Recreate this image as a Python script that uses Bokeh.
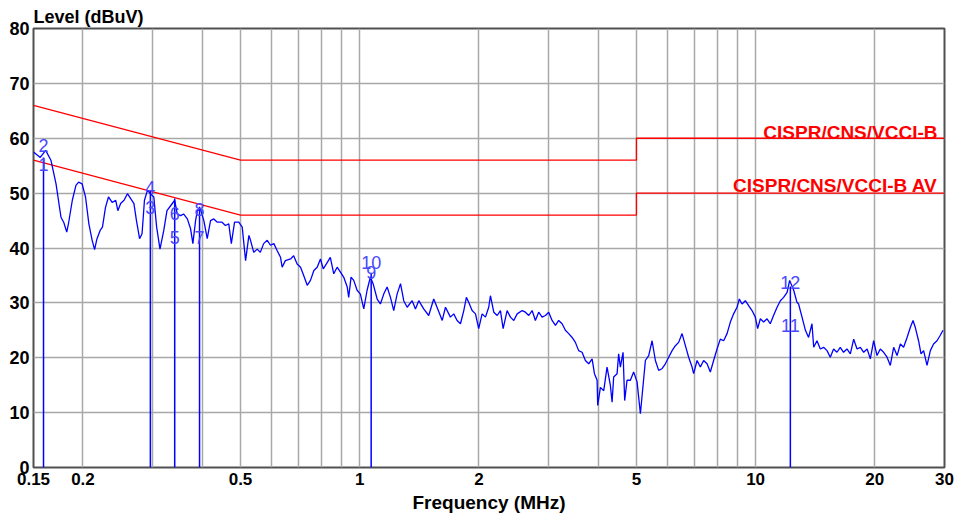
from bokeh.plotting import figure
from bokeh.models import FixedTicker, Label
from bokeh.core.properties import value
from bokeh.embed import file_html
from bokeh.resources import INLINE

# ---- measured trace (MHz, dBuV) ----
freq = [
    0.150, 0.156, 0.161, 0.166, 0.171, 0.176, 0.179, 0.182, 0.184, 0.188, 0.192, 0.195, 0.199,
    0.203, 0.207, 0.211, 0.214, 0.217, 0.221, 0.224, 0.228, 0.232, 0.237, 0.242, 0.245, 0.249,
    0.254, 0.259, 0.264, 0.269, 0.273, 0.278, 0.282, 0.286, 0.291, 0.296, 0.302, 0.307, 0.313,
    0.320, 0.326, 0.333, 0.341, 0.346, 0.353, 0.359, 0.367, 0.374, 0.379, 0.385, 0.389, 0.396,
    0.404, 0.412, 0.420, 0.428, 0.437, 0.449, 0.458, 0.467, 0.474, 0.483, 0.495, 0.505, 0.515,
    0.525, 0.530, 0.540, 0.551, 0.561, 0.572, 0.584, 0.595, 0.607, 0.619, 0.631, 0.637, 0.649,
    0.669, 0.681, 0.695, 0.709, 0.722, 0.737, 0.751, 0.766, 0.781, 0.796, 0.809, 0.824, 0.843,
    0.860, 0.877, 0.894, 0.911, 0.930, 0.938, 0.951, 0.966, 0.985, 1.004, 1.024, 1.044, 1.064,
    1.081, 1.107, 1.128, 1.150, 1.173, 1.196, 1.219, 1.243, 1.268, 1.292, 1.318, 1.357, 1.383,
    1.410, 1.451, 1.494, 1.538, 1.568, 1.616, 1.647, 1.679, 1.695, 1.728, 1.762, 1.797, 1.832,
    1.860, 1.885, 1.923, 1.961, 1.998, 2.038, 2.078, 2.118, 2.139, 2.181, 2.225, 2.267, 2.303,
    2.357, 2.403, 2.450, 2.499, 2.573, 2.622, 2.673, 2.726, 2.778, 2.832, 2.889, 2.945, 3.002,
    3.062, 3.122, 3.182, 3.245, 3.308, 3.372, 3.440, 3.506, 3.573, 3.645, 3.716, 3.788, 3.864,
    3.917, 3.978, 3.992, 4.055, 4.134, 4.215, 4.298, 4.340, 4.380, 4.468, 4.509, 4.554, 4.626,
    4.670, 4.734, 4.827, 4.920, 5.019, 5.117, 5.268, 5.370, 5.477, 5.583, 5.690, 5.803, 5.917,
    6.032, 6.153, 6.272, 6.392, 6.520, 6.647, 6.775, 6.910, 6.975, 7.114, 7.251, 7.392, 7.539,
    7.685, 7.834, 7.990, 8.145, 8.304, 8.470, 8.634, 8.800, 8.976, 9.097, 9.241, 9.421, 9.603,
    9.795, 9.985, 10.12, 10.28, 10.48, 10.69, 10.89, 11.10, 11.33, 11.55, 11.77, 12.01, 12.19,
    12.48, 12.72, 12.84, 13.10, 13.36, 13.61, 13.88, 14.02, 14.29, 14.57, 14.85, 15.15, 15.44,
    15.74, 16.05, 16.36, 16.68, 17.01, 17.35, 17.69, 18.04, 18.39, 18.75, 19.13, 19.49, 19.87,
    20.26, 20.65, 21.06, 21.48, 21.89, 22.32, 22.77, 23.21, 23.65, 24.13, 24.59, 24.98, 25.32,
    25.80, 26.17, 26.57, 27.10, 27.63, 28.15, 28.72, 29.28, 29.74,
]
level = [
    57.5, 56.5, 57.8, 56.0, 51.7, 45.6, 44.6, 42.9, 44.6, 48.7, 51.4, 52.0, 51.7,
    49.3, 44.4, 41.4, 39.7, 41.7, 43.2, 43.8, 47.4, 49.3, 48.3, 48.7, 46.8, 48.1,
    48.7, 49.9, 49.0, 48.1, 45.0, 41.7, 42.6, 48.7, 50.5, 49.9, 49.3, 43.8, 39.8,
    43.2, 46.8, 47.7, 48.7, 46.2, 45.9, 46.2, 45.3, 43.5, 40.8, 45.0, 46.8, 47.1,
    45.0, 41.7, 45.0, 45.3, 44.7, 44.7, 44.1, 44.4, 40.8, 44.7, 44.7, 43.8, 37.7,
    42.3, 41.4, 39.2, 39.8, 39.2, 40.8, 41.4, 40.5, 40.8, 39.5, 38.3, 36.5, 37.7,
    38.0, 38.6, 37.1, 36.5, 35.0, 33.2, 34.1, 35.9, 36.5, 38.0, 36.2, 37.1, 38.3,
    35.3, 36.5, 35.6, 34.7, 32.9, 31.0, 34.7, 34.1, 32.3, 31.6, 28.9, 32.3, 34.7,
    33.5, 30.7, 29.8, 31.6, 32.9, 31.0, 28.6, 31.6, 33.5, 30.4, 29.2, 30.4, 28.9,
    30.4, 28.9, 27.7, 30.7, 29.2, 26.8, 29.2, 28.0, 27.4, 28.0, 26.8, 26.2, 28.6,
    31.0, 30.1, 28.6, 28.0, 25.3, 28.0, 27.4, 29.2, 31.3, 28.3, 27.7, 28.6, 25.3,
    28.6, 27.4, 26.8, 28.0, 28.6, 28.3, 27.7, 28.6, 26.8, 28.3, 27.4, 27.7, 28.3,
    26.8, 25.9, 26.8, 26.2, 25.0, 24.4, 23.7, 22.8, 21.3, 21.0, 19.5, 18.9, 19.8,
    17.1, 15.9, 11.3, 14.6, 14.0, 18.3, 14.9, 11.9, 16.5, 17.1, 20.7, 18.3, 21.0,
    12.2, 15.9, 15.9, 17.4, 15.6, 9.8, 19.5, 20.4, 23.1, 19.5, 17.7, 18.0, 18.9,
    20.1, 21.3, 22.2, 22.8, 24.4, 22.2, 20.1, 18.3, 17.1, 19.5, 18.3, 19.5, 18.9,
    17.4, 19.5, 21.6, 23.4, 23.1, 24.4, 26.5, 28.0, 29.2, 30.7, 29.8, 30.4, 29.5,
    28.6, 27.4, 25.3, 27.1, 26.5, 27.1, 26.2, 27.7, 29.2, 30.4, 31.0, 31.9, 34.1,
    32.3, 30.1, 29.8, 27.4, 25.0, 23.7, 26.2, 21.9, 23.1, 21.6, 21.9, 21.3, 20.1,
    21.6, 21.0, 21.9, 21.0, 21.6, 20.7, 23.4, 21.6, 21.9, 21.0, 21.6, 19.8, 23.1,
    20.4, 21.6, 21.0, 20.1, 18.6, 21.9, 20.4, 22.5, 21.9, 23.7, 25.5, 26.8, 25.5,
    23.1, 20.7, 21.3, 18.6, 21.3, 22.5, 23.1, 24.1, 25.0,
]

# ---- limit lines ----
lim_freq = [0.15, 0.5, 5, 5, 30]
qp_limit = [66, 56, 56, 60, 60]
av_limit = [56, 46, 46, 50, 50]
qp_name = "CISPR/CNS/VCCI-B"
av_name = "CISPR/CNS/VCCI-B AV"

# ---- markers ----
mk_freq = [0.159, 0.296, 0.341, 0.394, 1.069, 12.24]
mk_top = [56.5, 50.5, 49.0, 47.5, 35.5, 33.0]
qp_mark_level = [58.7, 51.0, 46.3, 47.0, 37.4, 33.8]
qp_mark_text = ["2", "4", "6", "8", "10", "12"]
av_mark_level = [55.3, 47.4, 42.0, 42.0, 35.6, 25.9]
av_mark_text = ["1", "3", "5", "7", "9", "11"]

# ---- axes ----
x_label_ticks = [0.15, 0.2, 0.5, 1, 2, 5, 10, 20, 30]
x_label_text = ["0.15", "0.2", "0.5", "1", "2", "5", "10", "20", "30"]
x_grid_ticks = [0.2, 0.3, 0.4, 0.5, 0.6, 0.7, 0.8, 0.9, 1, 2, 3, 4, 5, 6, 7, 8, 9, 10, 20]
y_ticks = [0, 10, 20, 30, 40, 50, 60, 70, 80]

FONT = "Liberation Sans"

p = figure(frame_width=911, frame_height=439, x_axis_type="log",
           x_range=(0.15, 30), y_range=(0, 80),
           output_backend="svg", toolbar_location=None,
           min_border_left=33, min_border_right=10, min_border_top=28, min_border_bottom=48)
p.background_fill_color = "white"
p.border_fill_color = "white"
p.outline_line_color = "#505050"
p.outline_line_width = 2

p.title.text = "Level (dBuV)"
p.title.align = "left"
p.title.text_font = FONT
p.title.text_font_style = "bold"
p.title.text_font_size = "18px"
p.title.text_color = "black"
p.title.standoff = 4
p.title.offset = 0

p.xaxis.ticker = FixedTicker(ticks=x_label_ticks)
p.xaxis.major_label_overrides = {t: s for t, s in zip(x_label_ticks, x_label_text)}
p.yaxis.ticker = FixedTicker(ticks=y_ticks)
for ax in (p.xaxis, p.yaxis):
    ax.axis_line_color = None
    ax.major_tick_line_color = None
    ax.minor_tick_line_color = None
    ax.major_tick_out = 0
    ax.major_tick_in = 0
    ax.minor_tick_out = 0
    ax.major_label_text_font = FONT
    ax.major_label_text_font_style = "bold"
    ax.major_label_text_color = "black"
p.xaxis.major_label_text_font_size = "17px"
p.yaxis.major_label_text_font_size = "18px"
p.xaxis.major_label_standoff = 5
p.yaxis.major_label_standoff = 4
p.xaxis.axis_label = "Frequency (MHz)"
p.xaxis.axis_label_text_font = FONT
p.xaxis.axis_label_text_font_style = "bold"
p.xaxis.axis_label_text_font_size = "19px"
p.xaxis.axis_label_text_color = "black"
p.xaxis.axis_label_standoff = 4

p.xgrid.ticker = FixedTicker(ticks=x_grid_ticks)
p.ygrid.ticker = FixedTicker(ticks=y_ticks)
p.grid.grid_line_color = "#a8a8a8"
p.grid.grid_line_width = 1.5

# limit lines
p.line(lim_freq, qp_limit, line_color="#ff0000", line_width=1.3)
p.line(lim_freq, av_limit, line_color="#ff0000", line_width=1.3)

# trace
p.line(freq, level, line_color="#0000ff", line_width=1.3)

# markers
p.segment(x0=mk_freq, y0=[0] * len(mk_freq), x1=mk_freq, y1=mk_top,
          line_color="#0000ff", line_width=1.5)
p.text(x=mk_freq, y=qp_mark_level, text=qp_mark_text, text_align="center",
       text_baseline="middle", text_font=value(FONT), text_font_size="18px",
       text_color="#4848ff")
p.text(x=mk_freq, y=av_mark_level, text=av_mark_text, text_align="center",
       text_baseline="middle", text_font=value(FONT), text_font_size="18px",
       text_color="#4848ff")

# limit names
p.add_layout(Label(x=30, y=qp_limit[-1], text=qp_name, x_offset=-7, y_offset=6,
                   text_align="right", text_baseline="alphabetic", text_font=FONT,
                   text_font_style="bold", text_font_size="19px", text_color="#ff0000"))
p.add_layout(Label(x=30, y=av_limit[-1], text=av_name, x_offset=-7, y_offset=8,
                   text_align="right", text_baseline="alphabetic", text_font=FONT,
                   text_font_style="bold", text_font_size="19px", text_color="#ff0000"))

open("out.html", "w").write(file_html(p, INLINE))
